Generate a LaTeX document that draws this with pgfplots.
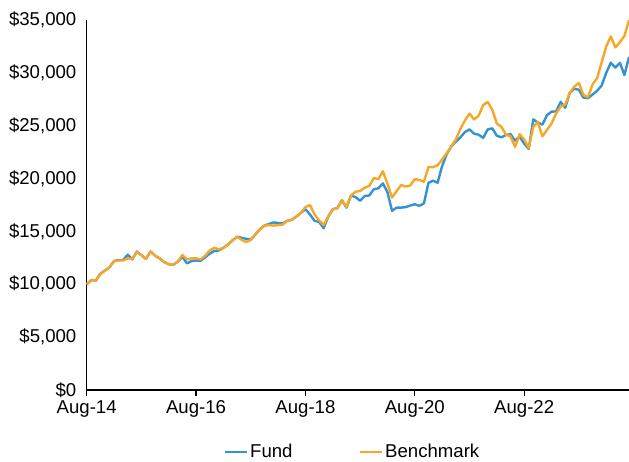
\documentclass[border=0pt]{standalone}
\usepackage{pgfplots}
\pgfplotsset{compat=1.18}
\usepackage{pgfplotstable}
\usepackage{fontspec}
\setmainfont{Liberation Sans}
\definecolor{fundblue}{RGB}{52,146,210}
\definecolor{benchorange}{RGB}{247,167,40}
\pgfplotstableread{
m fund bench
0 10000 10000
1 10400 10400
2 10350 10350
3 11000 10950
4 11300 11300
5 11600 11600
6 12200 12200
7 12300 12250
8 12300 12250
9 12800 12450
10 12350 12400
11 13100 13050
12 12750 12750
13 12400 12400
14 13100 13100
15 12700 12700
16 12450 12450
17 12100 12100
18 11900 11900
19 11830 11830
20 12150 12150
21 12600 12770
22 11980 12360
23 12200 12450
24 12250 12450
25 12230 12350
26 12550 12700
27 12900 13200
28 13150 13450
29 13200 13300
30 13450 13450
31 13750 13750
32 14150 14150
33 14500 14500
34 14400 14200
35 14300 14000
36 14250 14200
37 14700 14700
38 15200 15200
39 15550 15550
40 15700 15600
41 15850 15550
42 15800 15600
43 15750 15650
44 16000 16000
45 16100 16100
46 16400 16400
47 16750 16750
48 17100 17300
49 16600 17500
50 16000 16600
51 15900 16050
52 15300 15600
53 16400 16400
54 17100 17100
55 17200 17200
56 17950 17950
57 17250 17300
58 18400 18400
59 18250 18750
60 17900 18830
61 18350 19140
62 18400 19300
63 18990 20050
64 19080 19950
65 19550 20700
66 18700 19500
67 16950 18200
68 17250 18800
69 17250 19390
70 17300 19250
71 17450 19350
72 17570 19950
73 17420 19870
74 17650 19700
75 19600 21100
76 19800 21080
77 19600 21250
78 21200 21800
79 22300 22400
80 23050 23050
81 23490 23700
82 23900 24700
83 24400 25500
84 24650 26150
85 24250 25600
86 24150 25950
87 23850 26950
88 24650 27250
89 24750 26500
90 24050 25200
91 23900 24900
92 24120 24150
93 24200 24000
94 23600 23000
95 23950 24200
96 23300 23700
97 22800 22900
98 25600 24900
99 25300 25350
100 25100 24000
101 26000 24600
102 26330 25200
103 26350 26150
104 27250 26800
105 26700 27000
106 28100 28100
107 28500 28700
108 28400 29050
109 27650 27900
110 27600 27700
111 27950 28900
112 28300 29500
113 28800 31000
114 30000 32500
115 30950 33450
116 30500 32400
117 30950 32900
118 29800 33500
119 31500 35000
}\datatable
\begin{document}
\begin{tikzpicture}
\fontsize{18.6pt}{22pt}\selectfont
\begin{axis}[
  scale only axis,
  width=542.3pt, height=370pt,
  xmin=0, xmax=119, ymin=0, ymax=35000,
  axis x line*=bottom, axis y line*=left,
  axis line style={black, line width=1.4pt, -},
  xtick={0,24,48,72,96},
  xticklabels={Aug-14,Aug-16,Aug-18,Aug-20,Aug-22},
  ytick={0,5000,10000,15000,20000,25000,30000,35000},
  scaled y ticks=false,
  yticklabel={\$\pgfmathprintnumber{\tick}},
  /pgf/number format/.cd, fixed, 1000 sep={,}, assume math mode=true,
  /pgfplots/.cd,
  tick label style={font=\fontsize{18.6pt}{22pt}\selectfont, black},
  xtick style={black, line width=1.2pt},
  x tick label style={yshift=2pt},
  major tick length=6pt,
  tick align=outside,
  ytick style={draw=none},
  y tick label style={xshift=2pt},
  clip=false,
  legend columns=2,
  legend style={draw=none, fill=none, at={(0.49,-0.1676)}, anchor=center,
    font=\fontsize{18.6pt}{22pt}\selectfont,
    /tikz/every even column/.append style={column sep=64pt}},
  legend image code/.code={\draw[#1, line width=2.6pt] (0pt,0pt) -- (22pt,0pt);},
]
\addplot[fundblue, line width=2.4pt, line join=round] table[x=m, y=fund]{\datatable};
\addlegendentry{Fund}
\addplot[benchorange, line width=2.4pt, line join=round] table[x=m, y=bench]{\datatable};
\addlegendentry{Benchmark}
\end{axis}
\pgfresetboundingbox
\path (-86.7pt,-72pt) rectangle (542.3pt,390pt);
\end{tikzpicture}
\end{document}
